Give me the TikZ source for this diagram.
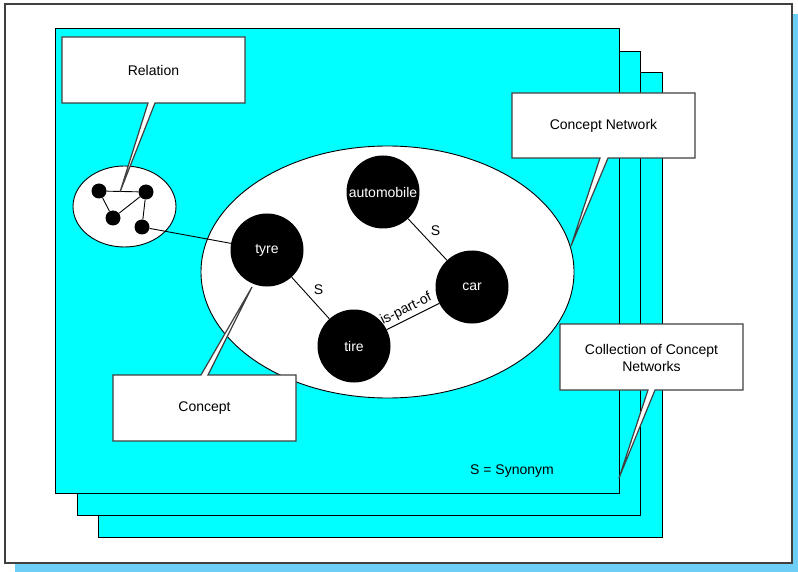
\documentclass[tikz,border=0pt]{standalone}
\usepackage{fontspec}
\setmainfont{Liberation Sans}
\usetikzlibrary{shapes.geometric}
\definecolor{shadowblue}{RGB}{110,206,245}
\definecolor{framegray}{RGB}{64,64,64}
\definecolor{sheetcyan}{RGB}{0,255,255}
\begin{document}
\begin{tikzpicture}[x=1pt,y=-1pt,
  every node/.style={font=\fontsize{14}{17}\selectfont},
  sheet/.style={fill=sheetcyan, draw=black, line width=1pt},
  concept/.style={circle, fill=black, text=white, minimum size=73pt, inner sep=0pt},
  dot/.style={circle, fill=black, minimum size=15pt, inner sep=0pt},
  link/.style={draw=black, line width=0.9pt},
  callout/.style={fill=white, draw=framegray, line width=1.2pt, line join=miter},
  blob/.style={ellipse, fill=white, draw=black, line width=0.9pt, inner sep=0pt},
]
\useasboundingbox (0,0) rectangle (798,572);

% page frame with its drop shadow
\fill[shadowblue] (15,14) rectangle (798,572);
\draw[fill=white, draw=framegray, line width=2pt] (5,4) rectangle (792,563);

% stack of concept-network sheets
\draw[sheet] (98,73) rectangle (662,537);
\draw[sheet] (77,52) rectangle (640,515);
\draw[sheet] (55,29) rectangle (619,493);

% the relation cluster and the concept network
\node[blob, minimum width=103pt, minimum height=81pt] (rel) at (124.5,206.5) {};
\node[blob, minimum width=373pt, minimum height=252pt] (net) at (387.5,272) {};

\node[dot] (d1) at (99,191) {};
\node[dot] (d2) at (146,192) {};
\node[dot] (d3) at (113,218) {};
\node[dot] (d4) at (142,227) {};

\node[concept] (auto) at (383,192) {automobile};
\node[concept] (tyre) at (267,250) {tyre};
\node[concept] (car)  at (472,287) {car};
\node[concept] (tire) at (354,346) {tire};

\draw[link] (d1) -- (d2);
\draw[link] (d1) -- (d3);
\draw[link] (d3) -- (d2);
\draw[link] (d2) -- (d4);
\draw[link] (d4) -- (tyre);

\draw[link] (auto) -- node[above right, inner sep=3pt] {S} (car);
\draw[link] (tyre) -- node[above right, inner sep=3pt] {S} (tire);
\draw[link] (tire) -- node[sloped, above, pos=0.45, inner sep=2.5pt] {is-part-of} (car);

% callouts
\coordinate (tipR) at (120,192);
\coordinate (tipC) at (252,287);
\coordinate (tipN) at (571,246);
\coordinate (tipK) at (619,478);

\draw[callout] (62,37) -- (245,37) -- (245,103) -- (155,103) -- (tipR) -- (148,103) -- (62,103) -- cycle;
\node (relation) at (153.5,70) {Relation};

\draw[callout] (113,375) -- (201,375) -- (tipC) -- (208,375) -- (296,375) -- (296,441) -- (113,441) -- cycle;
\node (concept) at (204.5,408) {Concept};

\draw[callout] (512,93) -- (695,93) -- (695,158) -- (608,158) -- (tipN) -- (600,158) -- (512,158) -- cycle;
\node (network) at (603.5,125.5) {Concept Network};

\draw[callout] (560,324) -- (743,324) -- (743,390) -- (655,390) -- (tipK) -- (648,390) -- (560,390) -- cycle;
\node[align=center, inner sep=0pt] (collection) at (651.5,358) {Collection of Concept\\Networks};

\node (legend) at (512,471) {S = Synonym};
\end{tikzpicture}
\end{document}
